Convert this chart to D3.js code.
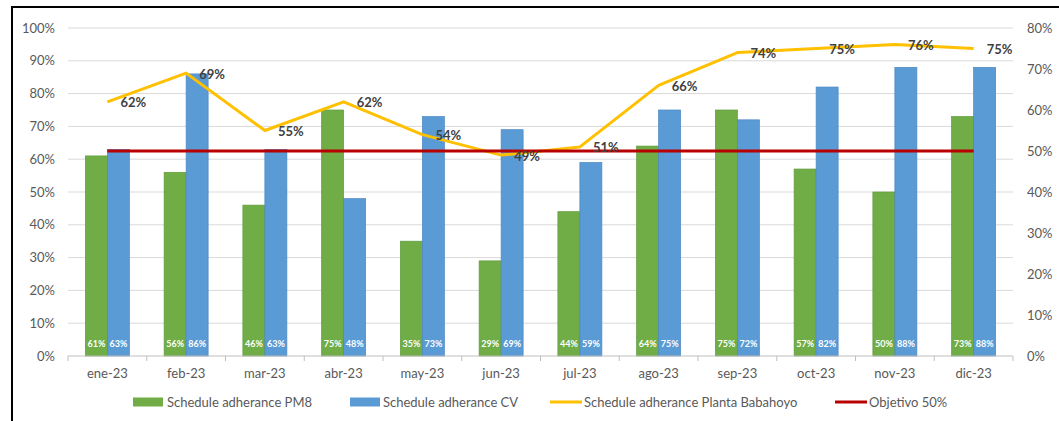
<!DOCTYPE html>
<html><head><meta charset="utf-8">
<script src="https://cdn.jsdelivr.net/npm/d3@7/dist/d3.min.js"></script>
<style>body{margin:0;background:#fff}svg{display:block}</style>
</head><body><svg id="c" width="1059" height="421"></svg>
<script>
const categories = ["ene-23","feb-23","mar-23","abr-23","may-23","jun-23","jul-23","ago-23","sep-23","oct-23","nov-23","dic-23"];
const pm8 = [61,56,46,75,35,29,44,64,75,57,50,73];
const cv = [63,86,63,48,73,69,59,75,72,82,88,88];
const planta = [62,69,55,62,54,49,51,66,74,75,76,75];
const objetivo = [50,50,50,50,50,50,50,50,50,50,50,50];
const leftTicks = [0,10,20,30,40,50,60,70,80,90,100];
const rightTicks = [0,10,20,30,40,50,60,70,80];
const seriesNames = ["Schedule adherance PM8","Schedule adherance CV","Schedule adherance Planta Babahoyo","Objetivo 50%"];

const FONT = "Lato, 'Open Sans', sans-serif";
const svg = d3.select("#c");
const L = 68, R = 1013, T = 28, B = 356;
const x = d3.scaleBand().domain(categories).range([L, R]);
const yL = d3.scaleLinear().domain([0,100]).range([B, T]);
const yR = d3.scaleLinear().domain([0,80]).range([B, T]);

// frame
svg.append("path").attr("d", `M12,421 V7 H1059`).attr("fill","none").attr("stroke","#000").attr("stroke-width",2);

// gridlines
svg.append("g").selectAll("line").data(leftTicks.slice(1)).join("line")
  .attr("x1", L).attr("x2", R).attr("y1", d=>yL(d)).attr("y2", d=>yL(d))
  .attr("stroke","#d9d9d9").attr("stroke-width",1);

// left axis labels
svg.append("g").selectAll("text").data(leftTicks).join("text")
  .attr("x", 55).attr("y", d=>yL(d)).attr("dy","0.35em").attr("text-anchor","end")
  .attr("font-family",FONT).attr("font-size",13).attr("fill","#595959").text(d=>d+"%");
// right axis labels
svg.append("g").selectAll("text").data(rightTicks).join("text")
  .attr("x", 1027).attr("y", d=>yR(d)).attr("dy","0.35em").attr("text-anchor","start")
  .attr("font-family",FONT).attr("font-size",13).attr("fill","#595959").text(d=>d+"%");

// bars
const bw = 22;
const bars = svg.append("g");
categories.forEach((c,i)=>{
  const cx = x(c) + x.bandwidth()/2;
  bars.append("rect").attr("x", cx-bw).attr("y", yL(pm8[i])).attr("width", bw).attr("height", B - yL(pm8[i]))
    .attr("fill","#70ad47").attr("stroke","#5f9a3b").attr("stroke-width",0.7);
  bars.append("rect").attr("x", cx).attr("y", yL(cv[i])).attr("width", bw).attr("height", B - yL(cv[i]))
    .attr("fill","#5b9bd5").attr("stroke","#4a88c2").attr("stroke-width",0.7);
  bars.append("text").attr("x", cx-bw/2).attr("y", 344).attr("dy","0.35em").attr("text-anchor","middle")
    .attr("font-family",FONT).attr("font-size",9).attr("font-weight","bold").attr("fill","#fff").text(pm8[i]+"%");
  bars.append("text").attr("x", cx+bw/2).attr("y", 344).attr("dy","0.35em").attr("text-anchor","middle")
    .attr("font-family",FONT).attr("font-size",9).attr("font-weight","bold").attr("fill","#fff").text(cv[i]+"%");
});

// x axis line and ticks
svg.append("line").attr("x1",L).attr("x2",R).attr("y1",B).attr("y2",B).attr("stroke","#bfbfbf");
svg.append("g").selectAll("line").data(categories.concat(["_end"])).join("line")
  .attr("x1",(d,i)=> i<categories.length ? x(d) : R).attr("x2",(d,i)=> i<categories.length ? x(d) : R)
  .attr("y1",B).attr("y2",B+5).attr("stroke","#bfbfbf");
svg.append("g").selectAll("text").data(categories).join("text")
  .attr("x", d=>x(d)+x.bandwidth()/2).attr("y", 373).attr("dy","0.35em").attr("text-anchor","middle")
  .attr("font-family",FONT).attr("font-size",13).attr("fill","#595959").text(d=>d);

// lines
const cxOf = (d,i)=> x(categories[i]) + x.bandwidth()/2;
const lineGen = d3.line().x((d,i)=>cxOf(d,i)).y(d=>yR(d));
svg.append("path").datum(planta).attr("d", lineGen).attr("fill","none").attr("stroke","#ffc000").attr("stroke-width",3).attr("stroke-linejoin","round");
svg.append("path").datum(objetivo).attr("d", lineGen).attr("fill","none").attr("stroke","#b80000").attr("stroke-width",3);

// line labels
svg.append("g").selectAll("text").data(planta).join("text")
  .attr("x",(d,i)=>cxOf(d,i)+13).attr("y", d=>yR(d)+1).attr("dy","0.35em")
  .attr("font-family",FONT).attr("font-size",13).attr("font-weight","bold").attr("fill","#404040").text(d=>d+"%");

// legend
const lg = svg.append("g").attr("font-family",FONT).attr("font-size",13).attr("fill","#595959");
const ly = 402;
lg.append("rect").attr("x",133).attr("y",ly-4.5).attr("width",30).attr("height",9).attr("fill","#70ad47");
lg.append("text").attr("x",167).attr("y",ly).attr("dy","0.35em").text(seriesNames[0]);
lg.append("rect").attr("x",350).attr("y",ly-4.5).attr("width",30).attr("height",9).attr("fill","#5b9bd5");
lg.append("text").attr("x",383).attr("y",ly).attr("dy","0.35em").text(seriesNames[1]);
lg.append("line").attr("x1",550).attr("x2",582).attr("y1",ly).attr("y2",ly).attr("stroke","#ffc000").attr("stroke-width",3);
lg.append("text").attr("x",584).attr("y",ly).attr("dy","0.35em").text(seriesNames[2]);
lg.append("line").attr("x1",835).attr("x2",867).attr("y1",ly).attr("y2",ly).attr("stroke","#b80000").attr("stroke-width",3);
lg.append("text").attr("x",869).attr("y",ly).attr("dy","0.35em").text(seriesNames[3]);
</script></body></html>
